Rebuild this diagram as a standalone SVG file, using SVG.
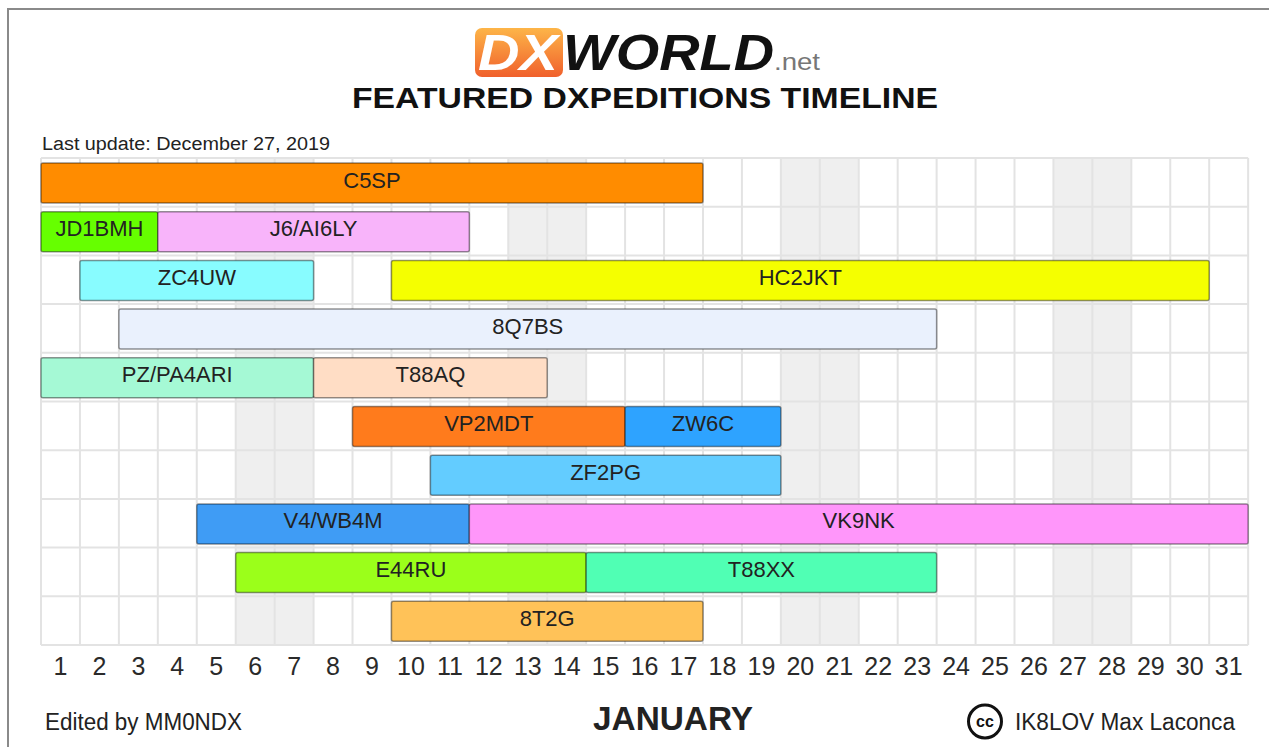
<svg xmlns="http://www.w3.org/2000/svg" width="1269" height="747" viewBox="0 0 1269 747">
<defs>
<linearGradient id="dxg" x1="0" y1="0" x2="0" y2="1">
<stop offset="0" stop-color="#FDB548"/>
<stop offset="1" stop-color="#F0602C"/>
</linearGradient>
<style>
.bar{stroke:rgba(0,0,0,0.42);stroke-width:1.5}
.lbl{font-family:"Liberation Sans",Arial,sans-serif;font-size:22px;fill:#222;text-anchor:middle}
.grid{stroke:#e3e3e3;stroke-width:2;fill:none}
.shade{fill:#efefef}
.day{font-family:"Liberation Sans",Arial,sans-serif;font-size:25px;fill:#2a2a2a;text-anchor:middle}
.foot{font-family:"Liberation Sans",Arial,sans-serif;fill:#222}
</style>
</defs>
<rect x="0" y="0" width="1269" height="747" fill="#fff"/>
<path d="M8 747 V9 H1269" fill="none" stroke="#8a8a8a" stroke-width="2"/>

<g id="header">
<rect x="475" y="28" width="88" height="49" rx="7" fill="url(#dxg)"/>
<text x="518" y="70" font-family="Liberation Sans,Arial,sans-serif" font-size="50" font-weight="bold" font-style="italic" fill="#fff" text-anchor="middle" textLength="80" lengthAdjust="spacingAndGlyphs">DX</text>
<text x="563" y="69.5" font-family="Liberation Sans,Arial,sans-serif" font-size="50" font-weight="bold" font-style="italic" fill="#111" textLength="211" lengthAdjust="spacingAndGlyphs">WORLD</text>
<text x="774" y="70" font-family="Liberation Sans,Arial,sans-serif" font-size="24" fill="#777" textLength="46" lengthAdjust="spacingAndGlyphs">.net</text>
<text x="645" y="108" font-family="Liberation Sans,Arial,sans-serif" font-size="30" font-weight="bold" fill="#111" text-anchor="middle" textLength="586" lengthAdjust="spacingAndGlyphs">FEATURED DXPEDITIONS TIMELINE</text>
<text x="42" y="150" class="foot" font-size="18" textLength="288" lengthAdjust="spacingAndGlyphs">Last update: December 27, 2019</text>
</g>

<g id="grid">
<rect class="shade" x="235.7" y="158" width="77.88" height="487"/>
<rect class="shade" x="508.28" y="158" width="77.88" height="487"/>
<rect class="shade" x="780.86" y="158" width="77.88" height="487"/>
<rect class="shade" x="1053.44" y="158" width="77.88" height="487"/>
<path class="grid" d="M41 158V645M79.94 158V645M118.88 158V645M157.82 158V645M196.76 158V645M235.7 158V645M274.64 158V645M313.58 158V645M352.52 158V645M391.46 158V645M430.4 158V645M469.34 158V645M508.28 158V645M547.22 158V645M586.16 158V645M625.1 158V645M664.04 158V645M702.98 158V645M741.92 158V645M780.86 158V645M819.8 158V645M858.74 158V645M897.68 158V645M936.62 158V645M975.56 158V645M1014.5 158V645M1053.44 158V645M1092.38 158V645M1131.32 158V645M1170.26 158V645M1209.2 158V645M1248.14 158V645"/>
<path class="grid" d="M41 158H1248.14M41 206.7H1248.14M41 255.4H1248.14M41 304.1H1248.14M41 352.8H1248.14M41 401.5H1248.14M41 450.2H1248.14M41 498.9H1248.14M41 547.6H1248.14M41 596.3H1248.14M41 645H1248.14"/>
</g>

<g id="C5SP"><rect class="bar" x="41" y="163" width="661.98" height="40" rx="2" fill="#FF8C00"/><text class="lbl" x="372" y="187.5">C5SP</text></g>
<g id="JD1BMH"><rect class="bar" x="41" y="211.7" width="116.82" height="40" rx="2" fill="#66FF00"/><text class="lbl" x="99.4" y="236.2">JD1BMH</text></g>
<g id="J6AI6LY"><rect class="bar" x="157.82" y="211.7" width="311.52" height="40" rx="2" fill="#F8B4FA"/><text class="lbl" x="313.6" y="236.2">J6/AI6LY</text></g>
<g id="ZC4UW"><rect class="bar" x="79.94" y="260.4" width="233.64" height="40" rx="2" fill="#88FCFF"/><text class="lbl" x="196.8" y="284.9">ZC4UW</text></g>
<g id="HC2JKT"><rect class="bar" x="391.46" y="260.4" width="817.74" height="40" rx="2" fill="#F5FF00"/><text class="lbl" x="800.3" y="284.9">HC2JKT</text></g>
<g id="8Q7BS"><rect class="bar" x="118.88" y="309.1" width="817.74" height="40" rx="2" fill="#EAF1FD"/><text class="lbl" x="527.8" y="333.6">8Q7BS</text></g>
<g id="PZPA4ARI"><rect class="bar" x="41" y="357.8" width="272.58" height="40" rx="2" fill="#A5F9D5"/><text class="lbl" x="177.3" y="382.3">PZ/PA4ARI</text></g>
<g id="T88AQ"><rect class="bar" x="313.58" y="357.8" width="233.64" height="40" rx="2" fill="#FFDDC5"/><text class="lbl" x="430.4" y="382.3">T88AQ</text></g>
<g id="VP2MDT"><rect class="bar" x="352.52" y="406.5" width="272.58" height="40" rx="2" fill="#FF7B1C"/><text class="lbl" x="488.8" y="431">VP2MDT</text></g>
<g id="ZW6C"><rect class="bar" x="625.1" y="406.5" width="155.76" height="40" rx="2" fill="#2EA3FF"/><text class="lbl" x="703" y="431">ZW6C</text></g>
<g id="ZF2PG"><rect class="bar" x="430.4" y="455.2" width="350.46" height="40" rx="2" fill="#63CCFF"/><text class="lbl" x="605.6" y="479.7">ZF2PG</text></g>
<g id="V4WB4M"><rect class="bar" x="196.76" y="503.9" width="272.58" height="40" rx="2" fill="#3F9CF5"/><text class="lbl" x="333" y="528.4">V4/WB4M</text></g>
<g id="VK9NK"><rect class="bar" x="469.34" y="503.9" width="778.8" height="40" rx="2" fill="#FF96FA"/><text class="lbl" x="858.7" y="528.4">VK9NK</text></g>
<g id="E44RU"><rect class="bar" x="235.7" y="552.6" width="350.46" height="40" rx="2" fill="#9BFF1A"/><text class="lbl" x="410.9" y="577.1">E44RU</text></g>
<g id="T88XX"><rect class="bar" x="586.16" y="552.6" width="350.46" height="40" rx="2" fill="#50FFB4"/><text class="lbl" x="761.4" y="577.1">T88XX</text></g>
<g id="8T2G"><rect class="bar" x="391.46" y="601.3" width="311.52" height="40" rx="2" fill="#FFC258"/><text class="lbl" x="547.2" y="625.8">8T2G</text></g>

<g id="days">
<text class="day" x="60.5" y="675">1</text>
<text class="day" x="99.4" y="675">2</text>
<text class="day" x="138.4" y="675">3</text>
<text class="day" x="177.3" y="675">4</text>
<text class="day" x="216.2" y="675">5</text>
<text class="day" x="255.2" y="675">6</text>
<text class="day" x="294.1" y="675">7</text>
<text class="day" x="333" y="675">8</text>
<text class="day" x="372" y="675">9</text>
<text class="day" x="410.9" y="675">10</text>
<text class="day" x="449.9" y="675">11</text>
<text class="day" x="488.8" y="675">12</text>
<text class="day" x="527.8" y="675">13</text>
<text class="day" x="566.7" y="675">14</text>
<text class="day" x="605.6" y="675">15</text>
<text class="day" x="644.6" y="675">16</text>
<text class="day" x="683.5" y="675">17</text>
<text class="day" x="722.5" y="675">18</text>
<text class="day" x="761.4" y="675">19</text>
<text class="day" x="800.3" y="675">20</text>
<text class="day" x="839.3" y="675">21</text>
<text class="day" x="878.2" y="675">22</text>
<text class="day" x="917.2" y="675">23</text>
<text class="day" x="956.1" y="675">24</text>
<text class="day" x="995" y="675">25</text>
<text class="day" x="1034" y="675">26</text>
<text class="day" x="1072.9" y="675">27</text>
<text class="day" x="1111.9" y="675">28</text>
<text class="day" x="1150.8" y="675">29</text>
<text class="day" x="1189.7" y="675">30</text>
<text class="day" x="1228.7" y="675">31</text>
</g>

<g id="footer">
<text class="foot" x="45" y="730" font-size="23" textLength="197" lengthAdjust="spacingAndGlyphs">Edited by MM0NDX</text>
<text class="foot" x="673" y="730" font-size="34" font-weight="bold" fill="#111" text-anchor="middle" textLength="160" lengthAdjust="spacingAndGlyphs">JANUARY</text>
<circle cx="985" cy="721.5" r="16.5" fill="none" stroke="#111" stroke-width="3"/>
<text x="985" y="727" font-family="Liberation Sans,Arial,sans-serif" font-size="16" font-weight="bold" fill="#111" text-anchor="middle">cc</text>
<text class="foot" x="1015" y="730" font-size="23" textLength="220" lengthAdjust="spacingAndGlyphs">IK8LOV Max Laconca</text>
</g>
</svg>
